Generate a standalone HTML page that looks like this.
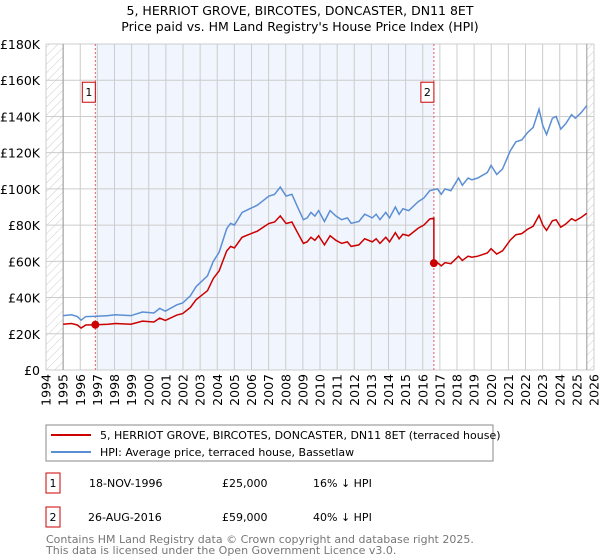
<!DOCTYPE html>
<html><head><meta charset="utf-8"><style>
body{margin:0;background:#fff;font-family:"Liberation Sans","DejaVu Sans",sans-serif;}
#wrap{position:relative;width:600px;height:560px;overflow:hidden;}
</style></head><body><div id="wrap">
<svg id="chart" width="600" height="560" xmlns="http://www.w3.org/2000/svg" style="font-family:'DejaVu Sans','Liberation Sans',sans-serif">
<defs><pattern id="hatch" width="6" height="6" patternUnits="userSpaceOnUse" patternTransform="rotate(45)"><line x1="0" y1="0" x2="0" y2="6" stroke="#ccc" stroke-width="1"/></pattern></defs>
<text x="300" y="15" text-anchor="middle" font-size="12.5" fill="#000">5, HERRIOT GROVE, BIRCOTES, DONCASTER, DN11 8ET</text>
<text x="300" y="31" text-anchor="middle" font-size="12.5" fill="#000">Price paid vs. HM Land Registry's House Price Index (HPI)</text>
<g id="plot"></g>
<g>
<rect x="46" y="425" width="447" height="36" fill="#fff" stroke="#888"/>
<line x1="51" y1="435" x2="91" y2="435" stroke="#cc0000" stroke-width="2"/>
<text x="100" y="439" font-size="11">5, HERRIOT GROVE, BIRCOTES, DONCASTER, DN11 8ET (terraced house)</text>
<line x1="51" y1="452" x2="91" y2="452" stroke="#5b8fd4" stroke-width="2"/>
<text x="100" y="456" font-size="11">HPI: Average price, terraced house, Bassetlaw</text>
</g>
<g font-size="11">
<rect x="46" y="473" width="14" height="20" fill="#fff" stroke="#cc0000"/>
<text x="53" y="487" text-anchor="middle">1</text>
<text x="89" y="487">18-NOV-1996</text>
<text x="222" y="487">£25,000</text>
<text x="313" y="487">16% ↓ HPI</text>
<rect x="46" y="507" width="14" height="20" fill="#fff" stroke="#cc0000"/>
<text x="53" y="521" text-anchor="middle">2</text>
<text x="88" y="521">26-AUG-2016</text>
<text x="222" y="521">£59,000</text>
<text x="313" y="521">40% ↓ HPI</text>
</g>
<text x="46" y="543" font-size="11" fill="#777">Contains HM Land Registry data © Crown copyright and database right 2025.</text>
<text x="46" y="554" font-size="11" fill="#777">This data is licensed under the Open Government Licence v3.0.</text>
</svg></div>
<script>
const hpiYears=[1995.0,1995.49,1995.83,1996.05,1996.32,1996.95,1997.62,1998.06,1998.96,1999.63,2000.30,2000.64,2000.97,2001.64,2001.98,2002.43,2002.76,2003.43,2003.77,2004.11,2004.55,2004.78,2005.0,2005.45,2005.89,2006.34,2007.01,2007.35,2007.68,2008.02,2008.36,2008.69,2009.03,2009.25,2009.47,2009.70,2009.92,2010.26,2010.59,2010.93,2011.26,2011.60,2011.82,2012.27,2012.61,2013.05,2013.28,2013.50,2013.84,2014.06,2014.40,2014.62,2014.84,2015.18,2015.74,2016.07,2016.41,2016.86,2017.08,2017.30,2017.64,2018.09,2018.31,2018.65,2018.87,2019.21,2019.77,2019.99,2020.32,2020.66,2021.11,2021.44,2021.78,2022.11,2022.45,2022.79,2023.01,2023.23,2023.57,2023.79,2024.06,2024.35,2024.69,2024.91,2025.24,2025.58];
const hpiValues=[30000,30500,29500,27500,29500,29700,30000,30500,30000,32000,31500,34000,32500,36000,37000,41000,46000,52000,60000,65000,78000,81000,80000,87000,89000,91000,96000,97000,101000,96000,97000,90000,83000,84000,87000,85000,88000,82000,88000,85000,83000,84000,81000,82000,86000,84000,86000,83000,87000,84000,90000,86000,89000,88000,93000,95000,99000,100000,97000,100000,99000,106000,102000,106000,105000,106000,109000,113000,108000,111000,121000,126000,127000,131000,134000,144000,135000,130000,139000,140000,133000,136000,141000,139000,142000,146000];
const saleYears=[1996.88,2016.65];
const salePrices=[25000,59000];
const saleLabels=["1","2"];
const yTicks=[0,20000,40000,60000,80000,100000,120000,140000,160000,180000];
const yTickLabels=["£0","£20K","£40K","£60K","£80K","£100K","£120K","£140K","£160K","£180K"];
const xTicks=[1994,1995,1996,1997,1998,1999,2000,2001,2002,2003,2004,2005,2006,2007,2008,2009,2010,2011,2012,2013,2014,2015,2016,2017,2018,2019,2020,2021,2022,2023,2024,2025,2026];

const L=46,R=594,T=44,B=370;
const xs=y=>L+(y-1994)/(2026-1994)*(R-L);
const ys=v=>B-v/180000*(B-T);
const NS="http://www.w3.org/2000/svg";
const g=document.getElementById('plot');
function mk(tag,attrs){const e=document.createElementNS(NS,tag);for(const k in attrs)e.setAttribute(k,attrs[k]);g.appendChild(e);return e;}
function hpiAt(y){for(let i=0;i<hpiYears.length-1;i++){if(y<=hpiYears[i+1]){const t=(y-hpiYears[i])/(hpiYears[i+1]-hpiYears[i]);return hpiValues[i]+t*(hpiValues[i+1]-hpiValues[i]);}}return hpiValues[hpiValues.length-1];}

let e;
e=mk('rect',{x:L,y:T,width:R-L,height:B-T,fill:'#fff'});


e=mk('rect',{x:xs(saleYears[0]),y:T,width:xs(saleYears[1])-xs(saleYears[0]),height:B-T,fill:'#f1f5fd'});


e=mk('rect',{x:L,y:T,width:xs(1995)-L,height:B-T,fill:'url(#hatch)'});


e=mk('rect',{x:xs(2025.58),y:T,width:R-xs(2025.58),height:B-T,fill:'url(#hatch)'});


xTicks.forEach(t=>{
 e=mk('line',{x1:xs(t),x2:xs(t),y1:T,y2:B,stroke:'#ccc','stroke-width':1});
 
 
 e=mk('text',{x:0,y:0,'font-size':12.5,'text-anchor':'end',transform:`translate(${xs(t)+4.5},374) rotate(-90)`});
 e.textContent=t;
 
 
});
yTicks.forEach((t,i)=>{
 e=mk('line',{x1:L,x2:R,y1:ys(t),y2:ys(t),stroke:'#ccc','stroke-width':1});
 
 
 e=mk('text',{x:40,y:ys(t)+5,'font-size':12.5,'text-anchor':'end'});
 e.textContent=yTickLabels[i];
 
 
});
e=mk('line',{x1:xs(1995),x2:xs(1995),y1:T,y2:B,stroke:'#999'});


e=mk('line',{x1:xs(2025.58),x2:xs(2025.58),y1:T,y2:B,stroke:'#999'});


saleYears.forEach((sy,i)=>{
 e=mk('line',{x1:xs(sy),x2:xs(sy),y1:T,y2:B,stroke:'#e06060','stroke-dasharray':'2,2','stroke-width':1});
 
 
 e=mk('rect',{x:xs(sy)-13,y:ys(160000)+2,width:13,height:20,fill:'#fff',stroke:'#cc0000'});
 
 
 e=mk('text',{x:xs(sy)-6.5,y:ys(160000)+16,'font-size':11,'text-anchor':'middle'});
 e.textContent=saleLabels[i];
 
 
});
// HPI line
e=mk('polyline',{points:hpiYears.map((y,i)=>xs(y)+','+ys(hpiValues[i])).join(' '),fill:'none',stroke:'#5b8fd4','stroke-width':1.5});


// Property line: HPI indexed to sale prices
const r1=salePrices[0]/hpiAt(saleYears[0]), r2=salePrices[1]/hpiAt(saleYears[1]);
let pts=[];
hpiYears.forEach((y,i)=>{
 if(y<saleYears[1]) pts.push([y,hpiValues[i]*r1]);
});
pts.push([saleYears[1],hpiAt(saleYears[1])*r1]);
pts.push([saleYears[1],salePrices[1]]);
hpiYears.forEach((y,i)=>{ if(y>saleYears[1]) pts.push([y,hpiValues[i]*r2]); });
e=mk('polyline',{points:pts.map(p=>xs(p[0])+','+ys(p[1])).join(' '),fill:'none',stroke:'#cc0000','stroke-width':1.5});


saleYears.forEach((sy,i)=>{
 e=mk('circle',{cx:xs(sy),cy:ys(salePrices[i]),r:4,fill:'#cc0000'});
 
 
});
</script></body></html>
